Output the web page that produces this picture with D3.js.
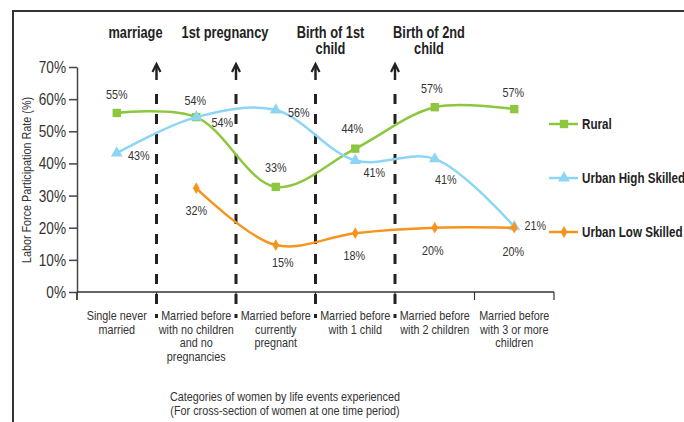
<!DOCTYPE html>
<html>
<head>
<meta charset="utf-8">
<script src="https://cdn.jsdelivr.net/npm/d3@7"></script>
<style>
  body { margin: 0; background: #fff; }
  svg { display: block; }
  text { font-family: "Liberation Sans", Arial, sans-serif; }
</style>
</head>
<body>
<svg width="684" height="422"></svg>
<script>
// categories (x axis), split in lines as printed
const categories = [
  ["Single never", "married"],
  ["Married before", "with no children", "and no", "pregnancies"],
  ["Married before", "currently", "pregnant"],
  ["Married before", "with 1 child"],
  ["Married before", "with 2 children"],
  ["Married before", "with 3 or more", "children"]
];
const events = [["marriage"], ["1st pregnancy"], ["Birth of 1st", "child"], ["Birth of 2nd", "child"]];
const yTicks = [0, 10, 20, 30, 40, 50, 60, 70];

// series values, % (null = no point)
const rural = [55.7, 54.4, 32.7, 44.6, 57.5, 56.9];
const urbanHigh = [43.2, 54.4, 56.6, 40.9, 41.4, 20.3];
const urbanLow = [null, 32.3, 14.6, 18.3, 20.0, 20.0];

const ruralLabels = ["55%", "54%", "33%", "44%", "57%", "57%"];
const highLabels = ["43%", "54%", "56%", "41%", "41%", "21%"];
const lowLabels = [null, "32%", "15%", "18%", "20%", "20%"];

const svg = d3.select('svg');
const idx = d3.range(categories.length);

const x = d3.scaleBand().domain(idx).range([77, 554]);
const y = d3.scaleLinear().domain([0, 70]).range([292, 67]);
const cx = i => x(i) + x.bandwidth() / 2;

// outer frame
svg.append('rect')
  .attr('x', 13).attr('y', 11)
  .attr('width', 700).attr('height', 440)
  .attr('fill', 'none').attr('stroke', '#333').attr('stroke-width', 2);

// y axis
const yAxis = svg.append('g')
  .attr('transform', 'translate(77,0)')
  .call(d3.axisLeft(y).tickValues(yTicks).tickFormat(d => d + '%').tickSize(8).tickSizeOuter(0).tickPadding(3));
yAxis.select('.domain').attr('stroke', '#444').attr('stroke-width', 1.5);
yAxis.selectAll('.tick line').attr('stroke', '#444').attr('stroke-width', 1.5);
yAxis.selectAll('.tick text')
  .attr('font-size', 17).attr('fill', '#333')
  .style('font-family', '"Liberation Sans", Arial, sans-serif');
svg.append('line')
  .attr('x1', 77).attr('x2', 77).attr('y1', 292).attr('y2', 300)
  .attr('stroke', '#444').attr('stroke-width', 1.5);

// x axis
svg.append('line')
  .attr('x1', 77).attr('x2', 554).attr('y1', 292).attr('y2', 292)
  .attr('stroke', '#333').attr('stroke-width', 1.5);
svg.selectAll('.xtick')
  .data(d3.range(categories.length + 1))
  .enter().append('line')
  .attr('x1', i => i < categories.length ? x(i) : x(i - 1) + x.bandwidth())
  .attr('x2', i => i < categories.length ? x(i) : x(i - 1) + x.bandwidth())
  .attr('y1', 292).attr('y2', 300)
  .attr('stroke', '#333').attr('stroke-width', 1.2);

svg.selectAll('.xlabel')
  .data(categories)
  .enter().append('text')
  .attr('text-anchor', 'middle')
  .attr('font-size', 13.5).attr('fill', '#333')
  .each(function (lines, i) {
    d3.select(this).selectAll('tspan')
      .data(lines).enter().append('tspan')
      .attr('x', cx(i))
      .attr('y', (d, j) => 320 + j * 13.5)
      .text(d => d);
  });

svg.append('text')
  .attr('text-anchor', 'middle')
  .attr('font-size', 13.5).attr('fill', '#333')
  .selectAll('tspan')
  .data(["Categories of women by life events experienced", "(For cross-section of women at one time period)"])
  .enter().append('tspan')
  .attr('x', 285).attr('y', (d, j) => 401 + j * 14)
  .text(d => d);

svg.append('text')
  .attr('transform', 'translate(31,180) rotate(-90)')
  .attr('text-anchor', 'middle')
  .attr('font-size', 13.5).attr('fill', '#333')
  .text('Labor Force Participation Rate (%)');

// dashed event lines with arrows
const eventOffsets = [-21, -11, 15, 34];
const eventX = events.map((e, i) => x(i + 1));
const ev = svg.selectAll('.event').data(events).enter().append('g');
ev.append('line')
  .attr('x1', (d, i) => eventX[i]).attr('x2', (d, i) => eventX[i])
  .attr('y1', 94).attr('y2', 318)
  .attr('stroke', '#222').attr('stroke-width', 3)
  .attr('stroke-dasharray', '10,10');
ev.append('line')
  .attr('x1', (d, i) => eventX[i]).attr('x2', (d, i) => eventX[i])
  .attr('y1', 65).attr('y2', 80)
  .attr('stroke', '#222').attr('stroke-width', 2.5);
ev.append('path')
  .attr('d', (d, i) => `M${eventX[i] - 4},${72} L${eventX[i]},${64} L${eventX[i] + 4},${72}`)
  .attr('fill', 'none').attr('stroke', '#222').attr('stroke-width', 2.2);
ev.append('text')
  .attr('text-anchor', 'middle')
  .attr('font-size', 16).attr('font-weight', 'bold').attr('fill', '#222')
  .each(function (lines, i) {
    d3.select(this).selectAll('tspan')
      .data(lines).enter().append('tspan')
      .attr('x', eventX[i] + eventOffsets[i])
      .attr('y', (d, j) => 38 + j * 16)
      .text(d => d);
  });

// series
const series = [
  { name: 'Rural', values: rural, labels: ruralLabels, color: '#8dc63f', symbol: d3.symbolSquare, size: 70,
    dx: [0, -1, 0, -3, -3, -1], dy: [-18, -17, -19, -20, -19, -17] },
  { name: 'Urban High Skilled', values: urbanHigh, labels: highLabels, color: '#8dd5f5', symbol: d3.symbolTriangle, size: 60,
    dx: [22, 26, 23, 19, 11, 21], dy: [2, 5, 2, 12, 21, -1] },
  { name: 'Urban Low Skilled', values: urbanLow, labels: lowLabels, color: '#f7941d', symbol: d3.symbolDiamond, size: 40,
    dx: [0, 0, 7, -1, -2, -1], dy: [0, 22, 17, 22, 23, 24] }
];

const line = d3.line()
  .defined(d => d != null)
  .x((d, i) => cx(i))
  .y(d => y(d))
  .curve(d3.curveCatmullRom.alpha(0.5));

series.forEach(s => {
  const g = svg.append('g');
  g.append('path')
    .attr('d', line(s.values))
    .attr('fill', 'none').attr('stroke', s.color).attr('stroke-width', 2.5);
  g.selectAll('.pt')
    .data(idx.filter(i => s.values[i] != null))
    .enter().append('path')
    .attr('transform', i => `translate(${cx(i)},${y(s.values[i])})`)
    .attr('d', d3.symbol().type(s.symbol).size(s.size))
    .attr('fill', s.color);
  g.selectAll('.lbl')
    .data(idx.filter(i => s.values[i] != null))
    .enter().append('text')
    .attr('x', i => cx(i) + s.dx[i])
    .attr('y', i => y(s.values[i]) + s.dy[i] + 4.5)
    .attr('text-anchor', 'middle')
    .attr('font-size', 13.5).attr('fill', '#333')
    .text(i => s.labels[i]);
});

// legend
const legendY = [124, 178, 232];
const leg = svg.selectAll('.legend').data(series).enter().append('g')
  .attr('transform', (d, i) => `translate(549,${legendY[i]})`);
leg.append('line')
  .attr('x1', 0).attr('x2', 29)
  .attr('stroke', d => d.color).attr('stroke-width', 2.5);
leg.append('path')
  .attr('transform', 'translate(15,0)')
  .attr('d', d => d3.symbol().type(d.symbol).size(d.size)())
  .attr('fill', d => d.color);
leg.append('text')
  .attr('x', 33).attr('y', 5)
  .attr('font-size', 14.5).attr('font-weight', 'bold').attr('fill', '#222')
  .text(d => d.name);

// narrow the glyphs to imitate the condensed face of the original
svg.selectAll('text').each(function () {
  const t = d3.select(this);
  const parts = t.selectAll('tspan').empty() ? [this] : t.selectAll('tspan').nodes();
  parts.forEach(n => {
    const w = n.getComputedTextLength();
    d3.select(n).attr('textLength', w * 0.8).attr('lengthAdjust', 'spacingAndGlyphs');
  });
});
</script>
</body>
</html>
